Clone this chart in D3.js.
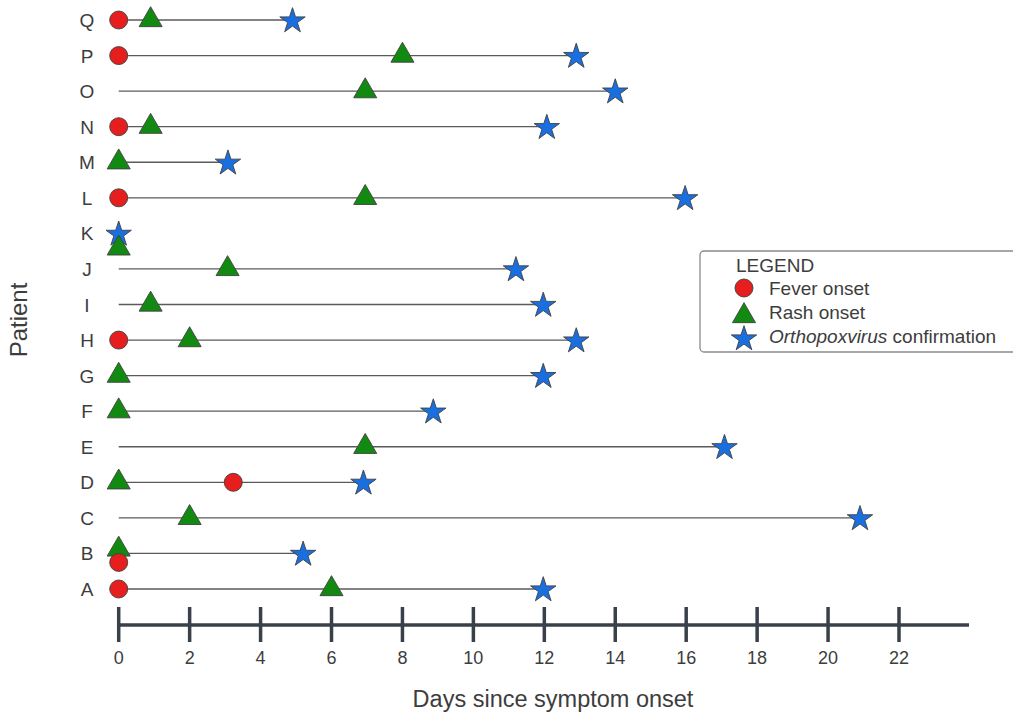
<!DOCTYPE html>
<html><head><meta charset="utf-8">
<script src="https://cdn.jsdelivr.net/npm/d3@7"></script>
<style>body{margin:0;background:#fff}svg{display:block}text{font-family:"Liberation Sans",Arial,sans-serif;fill:#3d3d3d}</style>
</head><body>
<svg id="c" width="1013" height="714"></svg>
<script>
// Data
const patients = ["A","B","C","D","E","F","G","H","I","J","K","L","M","N","O","P","Q"];
const feverOnset = [0, 0, null, 3.23, null, null, null, 0, null, null, null, 0, null, 0, null, 0, 0];
const rashOnset  = [6.0, 0, 2.0, 0, 6.95, 0, 0, 2.0, 0.9, 3.07, 0, 6.95, 0, 0.9, 6.95, 8.0, 0.9];
const confirmation = [11.97, 5.2, 20.9, 6.9, 17.08, 8.87, 11.97, 12.9, 11.97, 11.2, 0, 15.97, 3.08, 12.07, 14.0, 12.9, 4.9];
const xTicks = [0,2,4,6,8,10,12,14,16,18,20,22];
const legendLabels = ["Fever onset","Rash onset","Orthopoxvirus confirmation"];

const rows = patients.map((p,i)=>({p, fever:feverOnset[i], rash:rashOnset[i], conf:confirmation[i]}));

const svg = d3.select("#c");
const x = d3.scaleLinear().domain([0,22]).range([118.7, 899]);
const y = d3.scalePoint().domain(patients.slice().reverse()).range([20, 589]);

const RED="#e61e1e", GREEN="#128a12", BLUE="#1a6fe0", OUT="#3f3f3f";
const circleSym = d3.symbol().type(d3.symbolCircle).size(Math.PI*81);
const triSym = d3.symbol().type(d3.symbolTriangle).size(230);
const starSym = d3.symbol().type(d3.symbolStar).size(200);

// axis
const axisY = 625;
const ax = svg.append("g");
ax.append("line").attr("x1",x(0)).attr("x2",969).attr("y1",axisY).attr("y2",axisY)
  .attr("stroke","#394049").attr("stroke-width",3.5);
ax.selectAll(".tk").data(xTicks).join("line")
  .attr("x1",d=>x(d)).attr("x2",d=>x(d)).attr("y1",axisY-18).attr("y2",axisY+17)
  .attr("stroke","#394049").attr("stroke-width",3.5);
ax.selectAll(".tl").data(xTicks).join("text")
  .attr("x",d=>x(d)).attr("y",664).attr("text-anchor","middle")
  .attr("font-size",18).text(d=>d);
svg.append("text").attr("x",553).attr("y",707).attr("text-anchor","middle")
  .attr("font-size",23.5).text("Days since symptom onset");
svg.append("text").attr("transform","translate(27,320) rotate(-90)").attr("text-anchor","middle")
  .attr("font-size",24).text("Patient");

// row labels
svg.selectAll(".rl").data(patients).join("text")
  .attr("x",87).attr("y",d=>y(d)+7).attr("text-anchor","middle").attr("font-size",19).text(d=>d);

// lines
svg.selectAll(".ln").data(rows.filter(r=>r.conf>0)).join("line")
  .attr("x1",x(0)).attr("x2",d=>x(d.conf)).attr("y1",d=>y(d.p)).attr("y2",d=>y(d.p))
  .attr("stroke","#5a5a5a").attr("stroke-width",1.3);

function rashDy(r){ if(r.fever!==null && r.fever===r.rash) return -4; if(r.rash===r.conf) return 15; return 0; }
function feverDy(r){ if(r.fever===r.rash) return 9; return 0; }

// confirmation stars
svg.selectAll(".st").data(rows).join("path")
  .attr("d",starSym).attr("transform",d=>`translate(${x(d.conf)},${y(d.p)+1})`)
  .attr("fill",BLUE).attr("stroke",OUT).attr("stroke-width",0.9);
// rash triangles
svg.selectAll(".tr").data(rows).join("path")
  .attr("d",triSym).attr("transform",d=>`translate(${x(d.rash)},${y(d.p)+rashDy(d)})`)
  .attr("fill",GREEN).attr("stroke",OUT).attr("stroke-width",0.9);
// fever circles
svg.selectAll(".fv").data(rows.filter(r=>r.fever!==null)).join("path")
  .attr("d",circleSym).attr("transform",d=>`translate(${x(d.fever)},${y(d.p)+feverDy(d)})`)
  .attr("fill",RED).attr("stroke",OUT).attr("stroke-width",0.9);

// legend
const lg = svg.append("g");
lg.append("rect").attr("x",700).attr("y",251).attr("width",340).attr("height",101).attr("rx",4)
  .attr("fill","#fff").attr("stroke","#8a8a8a").attr("stroke-width",1.3);
lg.append("text").attr("x",736).attr("y",272).attr("font-size",19).text("LEGEND");
const syms=[circleSym,triSym,starSym], cols=[RED,GREEN,BLUE], ly=[288,316,339], ty=[295,319,343];
syms.forEach((s,i)=>{
  lg.append("path").attr("d",s()).attr("transform",`translate(744,${ly[i]})`)
    .attr("fill",cols[i]).attr("stroke",OUT).attr("stroke-width",0.9);
});
legendLabels.forEach((t,i)=>{
  const tx = lg.append("text").attr("x",769).attr("y",ty[i]).attr("font-size",19);
  if(i===2){
    tx.append("tspan").attr("font-style","italic").text("Orthopoxvirus");
    tx.append("tspan").text(" confirmation");
  } else tx.text(t);
});
</script>
</body></html>
